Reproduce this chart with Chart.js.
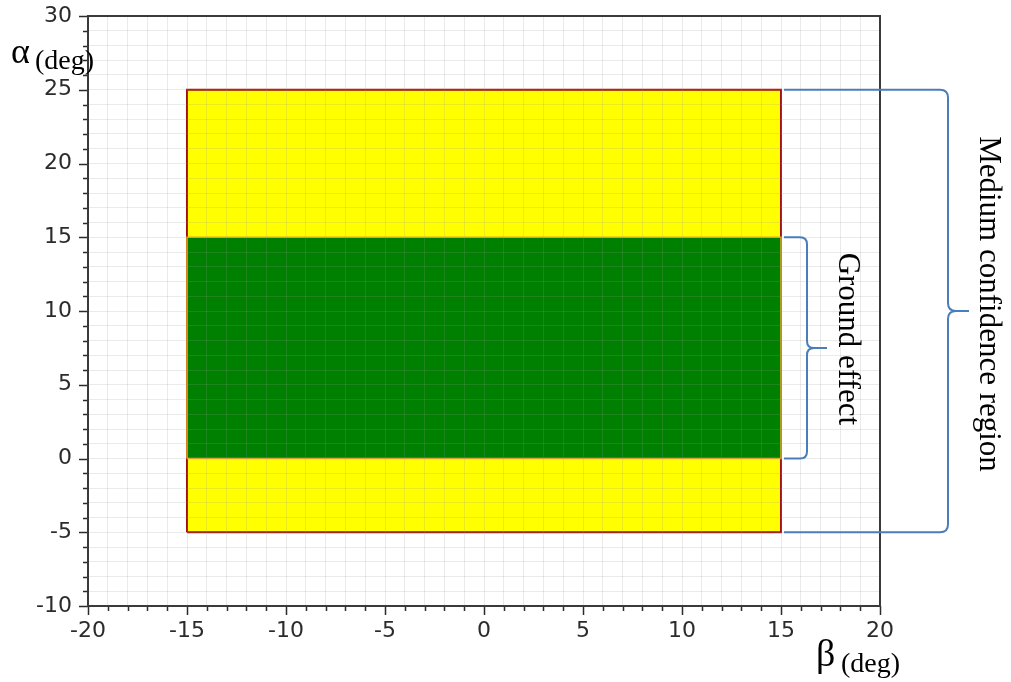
<!DOCTYPE html>
<html>
<head>
<meta charset="utf-8">
<script src="https://cdn.jsdelivr.net/npm/chart.js@4.4.0/dist/chart.umd.min.js"></script>
<style>
  html, body { margin: 0; padding: 0; background: #fff; }
  #wrap { width: 1011px; height: 682px; position: relative; }
</style>
</head>
<body>
<div id="wrap"><canvas id="chart"></canvas></div>
<script>
  /* ─── Data ─── */
  const betaLimits = [-15, 15];          // sideslip range (deg)
  const mediumAlphaLimits = [-5, 25];    // medium confidence region (deg)
  const groundAlphaLimits = [0, 15];     // ground effect band (deg)
  const xRange = [-20, 20];
  const yRange = [-10, 30];
  const xMajorTicks = [-20, -15, -10, -5, 0, 5, 10, 15, 20];
  const yMajorTicks = [-10, -5, 0, 5, 10, 15, 20, 25, 30];
  const regionLabels = ["Medium confidence region", "Ground effect"];

  const rect = (xs, ys) => [
    { x: xs[0], y: ys[0] },
    { x: xs[0], y: ys[1] },
    { x: xs[1], y: ys[1] },
    { x: xs[1], y: ys[0] },
    { x: xs[0], y: ys[0] },
  ];

  const SERIF = "'Liberation Serif', 'DejaVu Serif', serif";
  const INK = "#2b2b2b";
  const BRACE = "#4a7ebb";

  /* ─── Overlay: frame, ticks, braces, titles ─── */
  const overlay = {
    id: "overlay",
    afterDraw(chart) {
      const { ctx, chartArea: a, scales: { x, y } } = chart;
      ctx.save();

      // tick marks (major longer)
      ctx.strokeStyle = INK;
      ctx.lineWidth = 1.5;
      ctx.beginPath();
      for (let v = xRange[0]; v <= xRange[1]; v++) {
        const px = Math.round(x.getPixelForValue(v)) + 0.5;
        const len = xMajorTicks.includes(v) ? 9 : 5;
        ctx.moveTo(px, a.bottom);
        ctx.lineTo(px, a.bottom + len);
      }
      for (let v = yRange[0]; v <= yRange[1]; v++) {
        const py = Math.round(y.getPixelForValue(v)) + 0.5;
        const len = yMajorTicks.includes(v) ? 9 : 5;
        ctx.moveTo(a.left, py);
        ctx.lineTo(a.left - len, py);
      }
      ctx.stroke();

      // frame
      ctx.lineWidth = 2;
      ctx.strokeStyle = "#3a3a3a";
      ctx.strokeRect(a.left, a.top, a.right - a.left, a.bottom - a.top);

      // braces
      const xEdge = x.getPixelForValue(betaLimits[1]) + 3;
      const drawBrace = (lims, spineOff, tipLen, r) => {
        const yTop = y.getPixelForValue(lims[1]);
        const yBot = y.getPixelForValue(lims[0]);
        const xs = xEdge + spineOff;
        const ym = (yTop + yBot) / 2;
        ctx.beginPath();
        ctx.moveTo(xEdge, yTop);
        ctx.lineTo(xs - r, yTop);
        ctx.quadraticCurveTo(xs, yTop, xs, yTop + r);
        ctx.lineTo(xs, ym - r);
        ctx.quadraticCurveTo(xs, ym, xs + r, ym);
        ctx.lineTo(xs + tipLen, ym);
        ctx.moveTo(xs + r, ym);
        ctx.quadraticCurveTo(xs, ym, xs, ym + r);
        ctx.lineTo(xs, yBot - r);
        ctx.quadraticCurveTo(xs, yBot, xs - r, yBot);
        ctx.lineTo(xEdge, yBot);
        ctx.stroke();
        return { xs, ym };
      };
      ctx.strokeStyle = BRACE;
      ctx.lineWidth = 2;
      const bMed = drawBrace(mediumAlphaLimits, 164, 21, 8);
      const bGnd = drawBrace(groundAlphaLimits, 23, 20, 7);

      // rotated labels
      const vText = (txt, bx, cy) => {
        ctx.save();
        ctx.translate(bx, cy);
        ctx.rotate(Math.PI / 2);
        ctx.font = `31px ${SERIF}`;
        ctx.fillStyle = "#000";
        ctx.textAlign = "center";
        ctx.textBaseline = "alphabetic";
        ctx.fillText(txt, 0, 0);
        ctx.restore();
      };
      vText(regionLabels[0], bMed.xs + 32, bMed.ym - 7);
      vText(regionLabels[1], bGnd.xs + 32, bGnd.ym - 9);

      // axis titles
      ctx.fillStyle = "#000";
      ctx.textAlign = "left";
      ctx.textBaseline = "alphabetic";
      ctx.font = `36px ${SERIF}`;
      ctx.fillText("α", 11, 63);
      ctx.font = `28px ${SERIF}`;
      ctx.fillText("(deg)", 35, 69);
      ctx.font = `38px ${SERIF}`;
      ctx.fillText("β", 816, 666);
      ctx.font = `28px ${SERIF}`;
      ctx.fillText("(deg)", 841, 672);

      ctx.restore();
    },
  };

  /* ─── Chart ─── */
  const gridOpts = {
    color: "rgba(150,150,150,0.2)",
    lineWidth: 1,
    drawTicks: false,
    z: 1,
  };
  const tickFont = { family: "'DejaVu Sans', sans-serif", size: 22 };
  const majorOnly = (majors) => (v) => (majors.includes(v) ? String(v) : "");

  new Chart(document.getElementById("chart"), {
    type: "line",
    data: {
      datasets: [
        {
          label: "Ground effect",
          data: rect(betaLimits, groundAlphaLimits),
          backgroundColor: "#008000",
          borderColor: "#e8a820",
          borderWidth: 1.5,
          fill: "shape",
          pointRadius: 0,
          tension: 0,
        },
        {
          label: "Medium confidence region",
          data: rect(betaLimits, mediumAlphaLimits),
          backgroundColor: "#ffff00",
          borderColor: "#a01010",
          borderWidth: 2,
          fill: "shape",
          pointRadius: 0,
          tension: 0,
        },
      ],
    },
    options: {
      responsive: true,
      maintainAspectRatio: false,
      animation: false,
      layout: { padding: { left: 0, right: 131, top: 16, bottom: 0 } },
      plugins: { legend: { display: false }, tooltip: { enabled: false } },
      scales: {
        x: {
          type: "linear",
          min: xRange[0],
          max: xRange[1],
          grid: gridOpts,
          border: { display: false },
          ticks: {
            stepSize: 1,
            autoSkip: false,
            maxRotation: 0,
            padding: 12,
            color: INK,
            font: tickFont,
            callback: majorOnly(xMajorTicks),
          },
          afterFit: (s) => {
            s.height = 76;
            s.paddingLeft = 0;
            s.paddingRight = 0;
          },
        },
        y: {
          type: "linear",
          min: yRange[0],
          max: yRange[1],
          grid: gridOpts,
          border: { display: false },
          ticks: {
            stepSize: 1,
            autoSkip: false,
            padding: 16,
            color: INK,
            font: tickFont,
            callback: majorOnly(yMajorTicks),
          },
          afterFit: (s) => {
            s.width = 88;
            s.paddingTop = 0;
            s.paddingBottom = 0;
          },
        },
      },
    },
    plugins: [overlay],
  });
</script>
</body>
</html>
